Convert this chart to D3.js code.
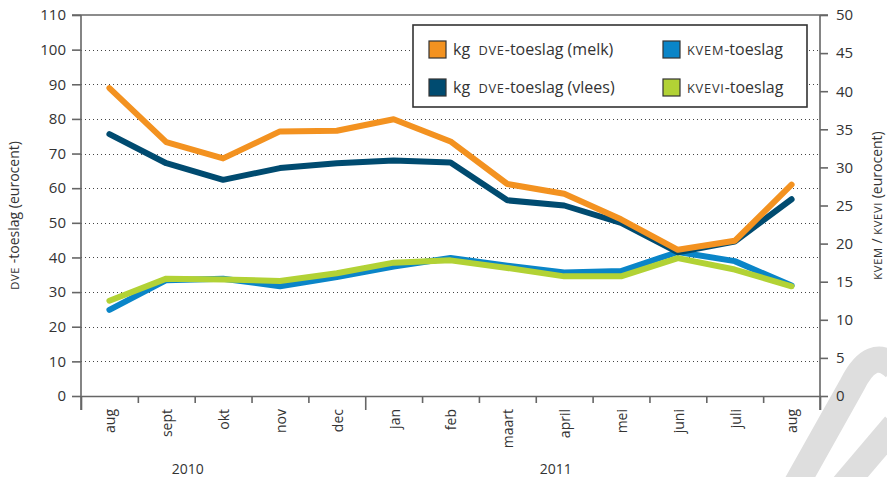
<!DOCTYPE html>
<html>
<head>
<meta charset="utf-8">
<script src="https://cdn.jsdelivr.net/npm/d3@7"></script>
<style>
  html, body { margin: 0; padding: 0; background: #fff; }
  svg { display: block; font-family: "Open Sans", "Noto Sans", sans-serif; }
  .sc { text-transform: uppercase; font-size: 0.8em; letter-spacing: 0.06em; }
</style>
</head>
<body>
<svg id="chart" width="887" height="477"></svg>
<script>
const months = ["aug","sept","okt","nov","dec","jan","feb","maart","april","mei","juni","juli","aug"];
const years = [{label: "2010", at: 1.88}, {label: "2011", at: 8.35}];
const dveMelk  = [88.9, 73.3, 68.6, 76.4, 76.6, 79.9, 73.5, 61.2, 58.4, 51.0, 42.2, 44.8, 61.0];
const dveVlees = [75.6, 67.2, 62.4, 65.8, 67.2, 68.0, 67.4, 56.5, 55.0, 50.0, 41.5, 44.6, 56.8];
const kvem     = [11.3, 15.2, 15.4, 14.4, 15.6, 17.0, 18.1, 17.1, 16.2, 16.4, 18.9, 17.7, 14.5];
const kvevi    = [12.5, 15.4, 15.3, 15.1, 16.1, 17.5, 17.8, 16.8, 15.7, 15.7, 18.1, 16.6, 14.4];
const leftTicks = d3.range(0, 111, 10);
const rightTicks = d3.range(0, 51, 5);

const series = [
  {name: "melk", values: dveMelk, axis: "L", color: "#f39220"},
  {name: "vlees", values: dveVlees, axis: "L", color: "#004b70"},
  {name: "kvem", values: kvem, axis: "R", color: "#0a85c8"},
  {name: "kvevi", values: kvevi, axis: "R", color: "#b2d235"}
];

const svg = d3.select("#chart");
const W = 887, H = 477;
const m = {l: 81, r: 67, t: 15, b: 81};
const x0 = m.l, x1 = W - m.r, y0 = H - m.b, y1 = m.t;

const xBand = d3.scaleBand().domain(d3.range(months.length)).range([x0, x1]);
const xEdge = d3.scaleLinear().domain([0, months.length]).range([x0, x1]);
const yL = d3.scaleLinear().domain([0, 110]).range([y0, y1]);
const yR = d3.scaleLinear().domain([0, 50]).range([y0, y1]);

const axisColor = "#666";
const textColor = "#333";

// watermark
const wm = svg.append("g").attr("fill", "none").attr("stroke", "#dedede").attr("stroke-width", 26);
wm.append("path").attr("d", "M792,492 L852,385 Q872,345 895,368");
wm.append("path").attr("d", "M838,492 L895,425");

// gridlines (dotted)
svg.append("g").selectAll("line").data(leftTicks.filter(d => d > 0 && d < 110)).join("line")
  .attr("x1", x0).attr("x2", x1)
  .attr("y1", d => Math.round(yL(d)) + 0.5).attr("y2", d => Math.round(yL(d)) + 0.5)
  .attr("stroke", "#444").attr("stroke-width", 1).attr("stroke-dasharray", "1,3");

// top frame line
svg.append("line").attr("x1", x0 - 9).attr("x2", x1 + 8).attr("y1", y1).attr("y2", y1)
  .attr("stroke", axisColor).attr("stroke-width", 1.6);

// left axis
const gL = svg.append("g").attr("transform", `translate(${x0},0)`)
  .call(d3.axisLeft(yL).tickValues(leftTicks).tickSize(9).tickPadding(6).tickSizeOuter(0));
// right axis
const gR = svg.append("g").attr("transform", `translate(${x1},0)`)
  .call(d3.axisRight(yR).tickValues(rightTicks).tickSize(8).tickPadding(8).tickSizeOuter(0));
// bottom axis (edge ticks)
const gB = svg.append("g").attr("transform", `translate(0,${y0})`)
  .call(d3.axisBottom(xEdge).tickValues(d3.range(months.length + 1)).tickFormat("").tickSize(7).tickSizeOuter(0));
gB.selectAll(".tick line").attr("y2", d => (d === 0 || d === 5 || d === months.length) ? 14 : 7);

[gL, gR, gB].forEach(g => {
  g.select(".domain").attr("stroke", axisColor).attr("stroke-width", 1.6);
  g.selectAll(".tick line").attr("stroke", axisColor).attr("stroke-width", 1.6);
  g.selectAll(".tick text").attr("fill", textColor).attr("font-size", 15)
    .attr("font-family", "'Open Sans', sans-serif");
});
gL.select(".domain").attr("d", `M0,${y1}V${y0 + 14}`);
gR.select(".domain").attr("d", `M0,${y1}V${y0 + 14}`);

// month labels
svg.append("g").selectAll("text").data(months).join("text")
  .attr("transform", (d, i) => `translate(${xBand(i) + xBand.bandwidth() / 2 + 1},${y0 + 13}) rotate(-90)`)
  .attr("text-anchor", "end").attr("dy", "0.35em")
  .attr("font-size", 14).attr("fill", textColor)
  .text(d => d);

// year labels
svg.append("g").selectAll("text").data(years).join("text")
  .attr("x", d => xEdge(d.at))
  .attr("y", 474)
  .attr("text-anchor", "middle").attr("font-size", 14).attr("fill", textColor)
  .text(d => d.label);

// axis titles
const tl = svg.append("text").attr("transform", `translate(19,${(y0 + y1) / 2 + 10}) rotate(-90)`)
  .attr("text-anchor", "middle").attr("font-size", 14).attr("fill", textColor);
tl.append("tspan").attr("class", "sc").text("dve");
tl.append("tspan").text(" -toeslag (eurocent)");

const tr = svg.append("text").attr("transform", `translate(882,${(y0 + y1) / 2}) rotate(-90)`)
  .attr("text-anchor", "middle").attr("font-size", 14).attr("fill", textColor);
tr.append("tspan").attr("class", "sc").text("kvem");
tr.append("tspan").text(" / ");
tr.append("tspan").attr("class", "sc").text("kvevi");
tr.append("tspan").text("  (eurocent)");

// lines
const lineGen = (scale) => d3.line().x((d, i) => xBand(i) + xBand.bandwidth() / 2).y(d => scale(d));
const order = ["kvem", "kvevi", "vlees", "melk"];
order.forEach(n => {
  const s = series.find(q => q.name === n);
  svg.append("path").datum(s.values)
    .attr("d", lineGen(s.axis === "L" ? yL : yR))
    .attr("fill", "none").attr("stroke", s.color).attr("stroke-width", 6)
    .attr("stroke-linejoin", "round").attr("stroke-linecap", "round");
});

// legend
const lg = svg.append("g");
lg.append("rect").attr("x", 413).attr("y", 25).attr("width", 394).attr("height", 82)
  .attr("fill", "#fff").attr("stroke", "#333").attr("stroke-width", 1.6);
const legendItems = [
  {color: "#f39220", x: 429, y: 41, parts: [["kg\u00a0 ", false], ["dve", true], ["-toeslag (melk)", false]]},
  {color: "#004b70", x: 429, y: 79, parts: [["kg\u00a0 ", false], ["dve", true], ["-toeslag (vlees)", false]]},
  {color: "#0a85c8", x: 663, y: 41, parts: [["kvem", true], ["-toeslag", false]]},
  {color: "#b2d235", x: 663, y: 79, parts: [["kvevi", true], ["-toeslag", false]]}
];
legendItems.forEach(it => {
  lg.append("rect").attr("x", it.x).attr("y", it.y).attr("width", 17).attr("height", 17)
    .attr("fill", it.color).attr("stroke", "#333").attr("stroke-width", 1.2);
  const t = lg.append("text").attr("x", it.x + 24).attr("y", it.y + 14)
    .attr("font-size", 16).attr("fill", textColor);
  it.parts.forEach(p => {
    const ts = t.append("tspan").text(p[0]);
    if (p[1]) ts.attr("class", "sc");
  });
});
</script>
</body>
</html>
